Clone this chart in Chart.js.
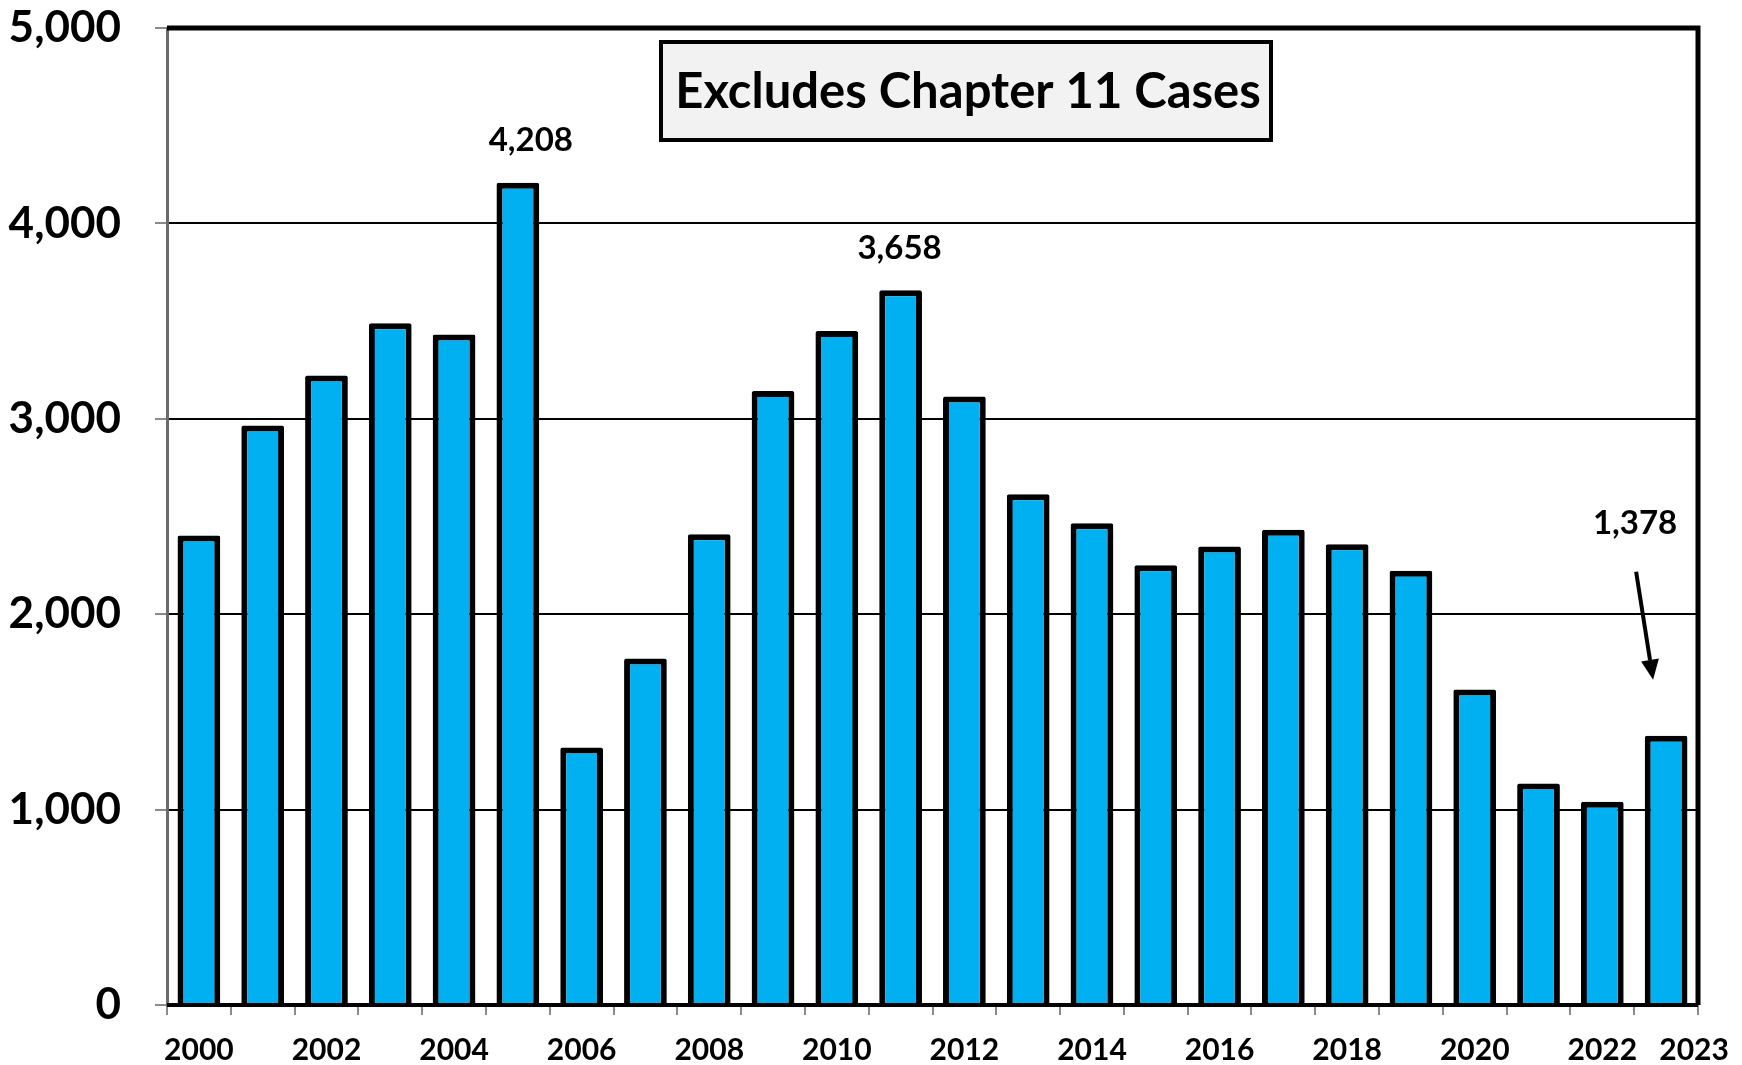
<!DOCTYPE html>
<html>
<head>
<meta charset="utf-8">
<script src="https://cdn.jsdelivr.net/npm/chart.js@4.4.0/dist/chart.umd.min.js"></script>
<style>
  html, body { margin: 0; padding: 0; background: #fff; }
  #wrap { width: 1742px; height: 1065px; }
</style>
</head>
<body>
<div id="wrap"><canvas id="c" width="1742" height="1065"></canvas></div>
<script>
const years = ['2000','2001','2002','2003','2004','2005','2006','2007','2008','2009','2010','2011','2012','2013','2014','2015','2016','2017','2018','2019','2020','2021','2022','2023'];
const cases = [2403, 2966, 3222, 3489, 3432, 4208, 1318, 1773, 2409, 3142, 3449, 3658, 3114, 2614, 2466, 2250, 2347, 2432, 2358, 2222, 1614, 1133, 1040, 1378];
const yTicks = [0, 1000, 2000, 3000, 4000, 5000];
const titleText = 'Excludes Chapter 11 Cases';
const calloutIndex = [5, 11];
const calloutText = ['4,208', '3,658'];
const arrowIndex = 23;
const arrowText = '1,378';

const FONT = 'Lato, "Open Sans", sans-serif';
const XFONT_SIZE = 30;
const X_TICK_LEN = 10;
const X_TICK_PAD = 17;
const CALLOUT_DX = [13, -1];

const framePlugin = {
  id: 'frame',
  afterDatasetsDraw(chart) {
    const ctx = chart.ctx, a = chart.chartArea;
    ctx.save();
    ctx.strokeStyle = '#000';
    ctx.lineWidth = 5;
    ctx.beginPath();
    ctx.moveTo(a.left, a.top);
    ctx.lineTo(a.right, a.top);
    ctx.lineTo(a.right, a.bottom);
    ctx.stroke();
    ctx.lineWidth = 4;
    ctx.beginPath();
    ctx.moveTo(a.left, a.bottom);
    ctx.lineTo(a.right, a.bottom);
    ctx.stroke();
    ctx.restore();
  },
  afterDraw(chart) {
    const ctx = chart.ctx;
    const xs = chart.scales.x, ys = chart.scales.y;
    ctx.save();
    // title box
    const bx = 661, by = 42, bw = 610, bh = 98;
    ctx.fillStyle = '#f2f2f2';
    ctx.fillRect(bx, by, bw, bh);
    ctx.strokeStyle = '#000';
    ctx.lineWidth = 4;
    ctx.strokeRect(bx, by, bw, bh);
    ctx.fillStyle = '#000';
    ctx.font = 'bold 49px ' + FONT;
    ctx.textAlign = 'center';
    ctx.textBaseline = 'middle';
    ctx.fillText(titleText, bx + bw / 2 + 2, by + bh / 2 + 1);

    // last year label, nudged right as in the original
    const li = years.length - 1;
    ctx.font = 'bold ' + XFONT_SIZE + 'px ' + FONT;
    ctx.fillText(years[li], xs.getPixelForValue(li) + 28, xs.top + X_TICK_LEN + X_TICK_PAD + XFONT_SIZE * 0.6);

    // callouts
    ctx.font = 'bold 33px ' + FONT;
    calloutIndex.forEach((idx, k) => {
      const x = xs.getPixelForValue(idx);
      const y = ys.getPixelForValue(cases[idx]);
      ctx.fillText(calloutText[k], x + CALLOUT_DX[k], y - 42);
    });
    // arrow callout
    const ax = xs.getPixelForValue(arrowIndex);
    const ay = ys.getPixelForValue(cases[arrowIndex]);
    ctx.fillText(arrowText, ax - 31, ay - 212);
    const x1 = ax - 30, y1 = ay - 164, x2 = ax - 13, y2 = ay - 56;
    const ang = Math.atan2(y2 - y1, x2 - x1);
    const hl = 20, hw = 9;
    const bxp = x2 - hl * Math.cos(ang), byp = y2 - hl * Math.sin(ang);
    ctx.lineWidth = 4;
    ctx.beginPath();
    ctx.moveTo(x1, y1);
    ctx.lineTo(bxp, byp);
    ctx.stroke();
    ctx.beginPath();
    ctx.moveTo(x2, y2);
    ctx.lineTo(bxp + hw * Math.sin(ang), byp - hw * Math.cos(ang));
    ctx.lineTo(bxp - hw * Math.sin(ang), byp + hw * Math.cos(ang));
    ctx.closePath();
    ctx.fill();
    ctx.restore();
  }
};

new Chart(document.getElementById('c'), {
  type: 'bar',
  data: {
    labels: years,
    datasets: [{
      data: cases,
      backgroundColor: '#00B0F0',
      borderColor: '#000',
      borderWidth: 6,
      borderRadius: 2,
      categoryPercentage: 1.0,
      barPercentage: 0.67
    }]
  },
  options: {
    responsive: false,
    animation: false,
    devicePixelRatio: 1,
    layout: { padding: { top: 28, right: 44, left: 0, bottom: 0 } },
    plugins: { legend: { display: false }, tooltip: { enabled: false } },
    scales: {
      x: {
        offset: true,
        grid: {
          offset: true,
          drawOnChartArea: false,
          drawTicks: true,
          tickLength: X_TICK_LEN,
          color: '#8a8a8a',
          lineWidth: 2
        },
        border: { display: false },
        ticks: {
          autoSkip: false,
          maxRotation: 0,
          padding: X_TICK_PAD,
          color: '#000',
          font: { family: FONT, size: XFONT_SIZE, weight: 'bold' },
          callback: function(v, i) {
            const yr = parseInt(years[i], 10);
            return (yr % 2 === 0) ? years[i] : '';
          }
        },
        afterFit(scale) {
          scale.height = 60;
          scale.paddingLeft = 0; scale.paddingRight = 0;
        }
      },
      y: {
        min: 0,
        max: 5000,
        afterBuildTicks(scale) { scale.ticks = yTicks.map(v => ({ value: v })); },
        grid: {
          color: '#000',
          lineWidth: 2,
          drawTicks: true,
          tickLength: 12,
          tickColor: '#8a8a8a'
        },
        border: { display: true, color: '#6a6a6a', width: 3 },
        ticks: {
          padding: 34,
          color: '#000',
          font: { family: FONT, size: 44, weight: 'bold' },
          callback: v => v.toLocaleString('en-US')
        },
        afterFit(scale) {
          scale.width = 167;
          scale.paddingTop = 0; scale.paddingBottom = 0;
        }
      }
    }
  },
  plugins: [framePlugin]
});
</script>
</body>
</html>
